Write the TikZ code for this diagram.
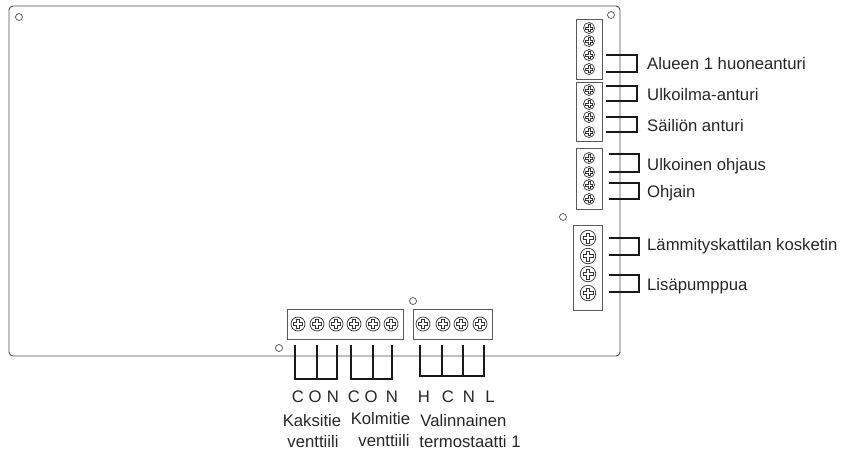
\documentclass[tikz,border=0pt]{standalone}
\usepackage{fontspec}
\setmainfont{Liberation Sans}
\usetikzlibrary{calc}
\tikzset{
    board/.style={draw=black!70,line width=0.9pt,rounded corners=4pt},
    block/.style={draw=black!65,line width=0.9pt,fill=white},
    wire/.style={draw=black!90,line width=1.5pt},
    hole/.style={shape=circle,draw=black!70,line width=0.7pt,inner sep=0pt,minimum size=7pt},
    caption/.style={font=\fontsize{16.7}{16.7}\selectfont,text=black!85,inner sep=0pt,anchor=base},
    sidecaption/.style={caption,anchor=base west},
    screw/.style={shape=circle,draw=black!80,line width=0.7pt,inner sep=0pt,minimum size=#1,
        path picture={
            \draw[black!80,line width=0.6pt]
                ($(path picture bounding box.center)+(-0.32*#1,-0.09*#1)$) -- ++(0.23*#1,0) -- ++(0,-0.23*#1) -- ++(0.18*#1,0) -- ++(0,0.23*#1)
                -- ++(0.23*#1,0) -- ++(0,0.18*#1) -- ++(-0.23*#1,0) -- ++(0,0.23*#1) -- ++(-0.18*#1,0) -- ++(0,-0.23*#1) -- ++(-0.23*#1,0) -- cycle;
        }},
}
\begin{document}
\begin{tikzpicture}[x=1pt,y=-1pt]
    \useasboundingbox (0,0) rectangle (841,451);

    % board
    \draw[board] (9,6) rectangle (620,356);
    \node[hole] (h1) at (19,17) {};
    \node[hole] (h2) at (611,15) {};
    \node[hole] (h3) at (563,217) {};
    \node[hole] (h4) at (413,301) {};
    \node[hole] (h5) at (279,348) {};

    % wires behind the blocks
    \coordinate (a1) at (606,55);
    \coordinate (a2) at (606,72);
    \coordinate (b1) at (606,86);
    \coordinate (b2) at (606,101);
    \coordinate (c1) at (606,117);
    \coordinate (c2) at (606,132);
    \coordinate (d1) at (609,154);
    \coordinate (d2) at (609,172);
    \coordinate (e1) at (609,183);
    \coordinate (e2) at (609,199);
    \coordinate (f1) at (609,238);
    \coordinate (f2) at (609,255);
    \coordinate (g1) at (609,275);
    \coordinate (g2) at (609,292);
    \draw[wire] (a1) -- ++(31,0) |- (a2);
    \draw[wire] (b1) -- ++(31,0) |- (b2);
    \draw[wire] (c1) -- ++(31,0) |- (c2);
    \draw[wire] (d1) -- ++(30,0) |- (d2);
    \draw[wire] (e1) -- ++(30,0) |- (e2);
    \draw[wire] (f1) -- ++(30,0) |- (f2);
    \draw[wire] (g1) -- ++(30,0) |- (g2);

    % terminal blocks
    \draw[block] (576,19) rectangle (602,79);
    \draw[block] (576,82) rectangle (602,141);
    \draw[block] (576,148) rectangle (602,209);
    \draw[block] (573,225) rectangle (602,310);
    \draw[block] (287,309) rectangle (403,339);
    \draw[block] (413,309) rectangle (492,339);

    % screws
    \foreach \y in {28,41,55,69,90,104,117,132,158,172,185,199}
        \node[screw=11pt] (s\y) at (589,\y) {};
    \foreach \y in {238,256,274,293}
        \node[screw=15.5pt] (s\y) at (588,\y) {};
    \foreach \x in {298,317,336,354,373,391,423,443,461,480}
        \node[screw=14pt] (s\x) at (\x,324) {};

    % wires under the board
    \coordinate (k1) at (295,345);
    \coordinate (k2) at (317,345);
    \coordinate (k3) at (337,345);
    \coordinate (m1) at (351,345);
    \coordinate (m2) at (373,345);
    \coordinate (m3) at (392,345);
    \coordinate (t1) at (420,345);
    \coordinate (t2) at (442,345);
    \coordinate (t3) at (463,345);
    \coordinate (t4) at (484,345);
    \draw[wire] (k1) |- (337,379) -- (k3);
    \draw[wire] (k2) -- ++(0,34);
    \draw[wire] (m1) |- (392,379) -- (m3);
    \draw[wire] (m2) -- ++(0,34);
    \draw[wire] (t1) |- (484,376) -- (t4);
    \draw[wire] (t2) -- ++(0,31);
    \draw[wire] (t3) -- ++(0,31);

    % labels
    \node[sidecaption] (l1) at (647,69.5) {Alueen 1 huoneanturi};
    \node[sidecaption] (l2) at (647,100) {Ulkoilma-anturi};
    \node[sidecaption] (l3) at (647,131.5) {Säiliön anturi};
    \node[sidecaption] (l4) at (647,170.5) {Ulkoinen ohjaus};
    \node[sidecaption] (l5) at (647,197) {Ohjain};
    \node[sidecaption] (l6) at (647,250.5) {Lämmityskattilan kosketin};
    \node[sidecaption] (l7) at (647,290) {Lisäpumppua};

    \node[caption] (p1) at (298,402) {C};
    \node[caption] (p2) at (315,402) {O};
    \node[caption] (p3) at (333,402) {N};
    \node[caption] (p4) at (354,402) {C};
    \node[caption] (p5) at (371,402) {O};
    \node[caption] (p6) at (392,402) {N};
    \node[caption] (p7) at (424,402) {H};
    \node[caption] (p8) at (448,402) {C};
    \node[caption] (p9) at (469,402) {N};
    \node[caption] (p10) at (490,402) {L};

    \node[caption] (n1) at (312,426) {Kaksitie};
    \node[caption] (n2) at (313,447) {venttiili};
    \node[caption] (n3) at (380.5,424) {Kolmitie};
    \node[caption] (n4) at (384,446) {venttiili};
    \node[caption] (n5) at (463.5,426) {Valinnainen};
    \node[caption] (n6) at (470,447) {termostaatti 1};
\end{tikzpicture}
\end{document}
